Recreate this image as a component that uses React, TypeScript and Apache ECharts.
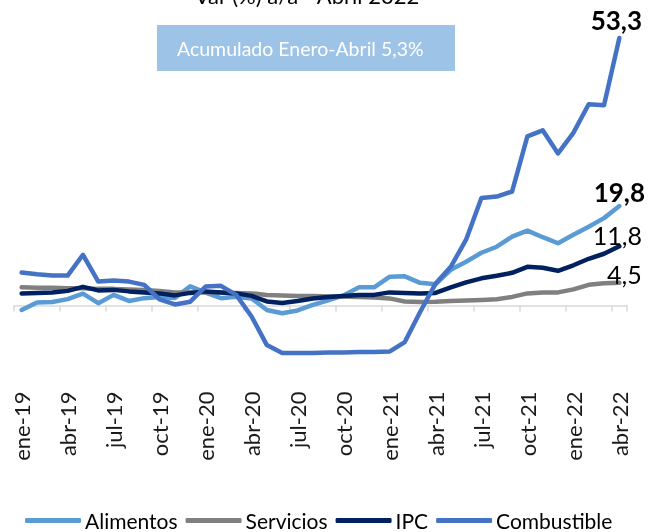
import React, { useEffect, useRef } from "react";
import * as echarts from "echarts";

const months = [
  "ene-19", "feb-19", "mar-19", "abr-19", "may-19", "jun-19", "jul-19", "ago-19", "sep-19", "oct-19", "nov-19", "dic-19",
  "ene-20", "feb-20", "mar-20", "abr-20", "may-20", "jun-20", "jul-20", "ago-20", "sep-20", "oct-20", "nov-20", "dic-20",
  "ene-21", "feb-21", "mar-21", "abr-21", "may-21", "jun-21", "jul-21", "ago-21", "sep-21", "oct-21", "nov-21", "dic-21",
  "ene-22", "feb-22", "mar-22", "abr-22",
];

const alimentos = [
  -0.9, 0.6, 0.7, 1.25, 2.35, 0.45, 2.1, 0.9, 1.45, 1.7, 1.5, 3.8,
  2.55, 1.45, 1.75, 1.4, -0.9, -1.55, -1.0, 0.1, 1.0, 2.0, 3.6, 3.6,
  5.7, 5.8, 4.5, 4.2, 7.1, 8.7, 10.5, 11.7, 13.7, 14.9, 13.6, 12.4,
  14.1, 15.7, 17.4, 19.8,
];

const servicios = [
  3.6, 3.5, 3.5, 3.4, 3.4, 3.3, 3.3, 3.2, 3.1, 2.9, 2.6, 2.6,
  2.6, 2.6, 2.5, 2.4, 2.1, 2.0, 1.9, 1.9, 1.8, 1.8, 1.7, 1.6,
  1.4, 0.8, 0.7, 0.75, 0.9, 1.0, 1.1, 1.25, 1.7, 2.4, 2.6, 2.6,
  3.2, 4.1, 4.4, 4.5,
];

const ipc = [
  2.4, 2.5, 2.6, 2.9, 3.7, 3.0, 3.1, 2.8, 2.6, 2.4, 2.0, 2.5,
  2.8, 2.6, 2.4, 1.9, 0.8, 0.5, 0.9, 1.4, 1.7, 1.9, 2.1, 2.1,
  2.6, 2.5, 2.4, 2.5, 3.6, 4.6, 5.4, 5.9, 6.5, 7.7, 7.5, 6.9,
  8.0, 9.3, 10.3, 11.8,
];

const combustible = [
  6.55, 6.2, 5.95, 5.95, 10.1, 4.75, 4.95, 4.75, 4.1, 1.2, 0.2, 0.75,
  3.75, 3.9, 2.1, -2.2, -7.9, -9.5, -9.5, -9.5, -9.4, -9.4, -9.3, -9.3,
  -9.2, -7.3, -1.3, 4.3, 7.7, 13.1, 21.4, 21.7, 22.7, 33.7, 34.9, 30.3,
  34.4, 40.1, 39.9, 53.3,
];

const seriesNames = ["Alimentos", "Servicios", "IPC", "Combustible"];
const seriesColors = ["#5B9BD5", "#808080", "#002060", "#4472C4"];
const FONT = "Lato";

function fmt(v: number) {
  return String(v).replace(".", ",");
}

export default function App() {
  const ref = useRef<HTMLDivElement>(null);

  useEffect(() => {
    if (!ref.current) return;
    const chart = echarts.init(ref.current, null, { renderer: "svg" });
    const datasets = [alimentos, servicios, ipc, combustible];
    const labelCfg = [
      { bold: true, size: 26, offset: [0, -1] },
      { bold: false, size: 25, offset: [5, 4] },
      { bold: false, size: 25, offset: [-2, 1] },
      { bold: true, size: 26, offset: [-3, -5] },
    ];
    const last = months.length - 1;

    const series = datasets.map((d, k) => ({
      name: seriesNames[k],
      type: "line",
      data: d,
      symbol: "circle",
      symbolSize: 0.1,
      showSymbol: true,
      lineStyle: { width: 4.5, color: seriesColors[k], cap: "round", join: "round" },
      itemStyle: { color: seriesColors[k] },
      emphasis: { disabled: true },
      z: 2 + k,
      label: {
        show: true,
        position: "top",
        distance: 0,
        offset: labelCfg[k].offset,
        fontFamily: FONT,
        fontSize: labelCfg[k].size,
        fontWeight: labelCfg[k].bold ? "bold" : "normal",
        color: "#000",
        formatter: (p: any) => (p.dataIndex === last ? fmt(p.value) : ""),
      },
    }));

    chart.setOption({
      animation: false,
      textStyle: { fontFamily: FONT },
      grid: { left: 14, right: 33, top: 29.5, bottom: 176.4 },
      xAxis: [
        {
          type: "category",
          data: months,
          boundaryGap: true,
          axisLine: { show: true, onZero: true, lineStyle: { color: "#D9D9D9", width: 1.5 } },
          axisTick: { show: true, interval: 2, length: 6, lineStyle: { color: "#D9D9D9", width: 1.5 } },
          axisLabel: { show: false },
          splitLine: { show: false },
        },
        {
          type: "category",
          data: months,
          position: "bottom",
          boundaryGap: true,
          axisLine: { show: false, onZero: false },
          axisTick: { show: false },
          axisLabel: {
            interval: 2,
            rotate: 90,
            margin: 36,
            fontSize: 22,
            color: "#1a1a1a",
            fontFamily: FONT,
          },
          splitLine: { show: false },
        },
      ],
      yAxis: { type: "value", min: -10, max: 55, show: false },
      legend: {
        data: seriesNames,
        left: 20,
        top: 505,
        icon: "roundRect",
        itemWidth: 56,
        itemHeight: 5,
        itemGap: 8,
        textStyle: { fontFamily: FONT, fontSize: 21, color: "#000", padding: [0, 0, 0, -1] },
      },
      graphic: [
        {
          type: "text",
          x: 307,
          y: 6,
          style: {
            text: "Var (%) a/a - Abril 2022",
            fontFamily: FONT,
            fontSize: 22,
            fill: "#000",
            align: "center",
            verticalAlign: "bottom",
          },
        },
        {
          type: "rect",
          shape: { x: 157, y: 25, width: 298, height: 46 },
          style: { fill: "#9DC3E6" },
        },
        {
          type: "text",
          x: 177,
          y: 48,
          style: {
            text: "Acumulado Enero-Abril 5,3%",
            fontFamily: FONT,
            fontSize: 19.5,
            fill: "#FFFFFF",
            align: "left",
            verticalAlign: "middle",
          },
        },
      ],
      series,
    });

    return () => chart.dispose();
  }, []);

  return (
    <div
      ref={ref}
      style={{ position: "fixed", left: 0, top: 0, width: 660, height: 532 }}
    />
  );
}
